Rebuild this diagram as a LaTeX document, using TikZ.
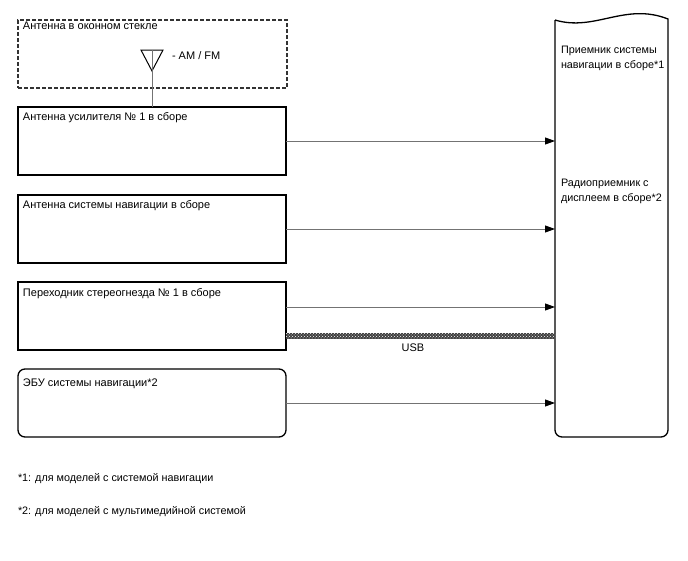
\documentclass[tikz,border=0pt]{standalone}
\usepackage{fontspec}
\setmainfont{Liberation Sans}
\usetikzlibrary{arrows.meta,patterns}
\begin{document}
\begin{tikzpicture}[x=1pt,y=-1pt,
  every node/.style={font=\fontsize{11}{14.5}\selectfont, inner sep=0pt, outer sep=0pt},
  box/.style={draw=black, line width=1.3pt, minimum width=268pt, minimum height=68pt, anchor=north west},
  lbl/.style={anchor=base west, align=left},
  arr/.style={draw=black!55, line width=0.9pt, -{Triangle[length=10pt,width=7pt,black]}},
  cable/.style={preaction={fill=black!75}, pattern=crosshatch dots, pattern color=white}
]
\useasboundingbox (0,0) rectangle (688,560);

% dashed antenna box
\node[draw=black!80, dash pattern=on 4pt off 2pt, line width=1.2pt, minimum width=269pt, minimum height=68pt, anchor=north west] (glass) at (18,20) {};
\node[lbl] (glasst) at (23,29) {Антенна в оконном стекле};

% antenna symbol
\coordinate (ant) at (152,50);
\draw[line width=1pt] (141,50) -- (163,50) -- (152,71) -- cycle;
\node[lbl] (amfm) at (172,59) {- AM / FM};

% boxes
\node[box] (b1) at (18,107) {};
\node[lbl] (b1t) at (23,120) {Антенна усилителя № 1 в сборе};
\node[box] (b2) at (18,195) {};
\node[lbl] (b2t) at (23,208) {Антенна системы навигации в сборе};
\node[box] (b3) at (18,282) {};
\node[lbl] (b3t) at (23,296) {Переходник стереогнезда № 1 в сборе};
\node[box, rounded corners=7pt] (b4) at (18,369) {};
\node[lbl] (b4t) at (23,386) {ЭБУ системы навигации*2};

\draw[draw=black!55, line width=1pt] (ant) -- (ant |- b1.north);

% right unit
\node[minimum width=113pt, minimum height=420pt, anchor=south west] (rb) at (555,437) {};
\draw[line width=1.3pt] (555,20) .. controls (595,32) and (625,2) .. (668,19)
  [rounded corners=7pt] -- (668,437) -- (555,437) -- (555,20);
\node[lbl, font=\fontsize{10.8}{14.5}\selectfont] (rbt1) at (561,68) {Приемник системы\\навигации в сборе*1};
\node[lbl, font=\fontsize{10.8}{14.5}\selectfont] (rbt2) at (561,201) {Радиоприемник с\\дисплеем в сборе*2};

% connectors
\draw[arr] (b1.east) -- (b1.east -| rb.west);
\draw[arr] (b2.east) -- (b2.east -| rb.west);
\draw[arr] ([yshift=9pt]b3.east) -- ([yshift=9pt]b3.east -| rb.west);
\draw[arr] (b4.east) -- (b4.east -| rb.west);
\path[cable] ([yshift=-17pt]b3.east) rectangle ([yshift=-22.5pt]b3.east -| rb.west);
\node[anchor=base] (usb) at (413,351) {USB};

% footnotes
\node[lbl, font=\fontsize{10.8}{14.5}\selectfont] (fn1) at (18,481) {*1: для моделей с системой навигации};
\node[lbl, font=\fontsize{10.8}{14.5}\selectfont] (fn2) at (18,514) {*2: для моделей с мультимедийной системой};
\end{tikzpicture}
\end{document}
